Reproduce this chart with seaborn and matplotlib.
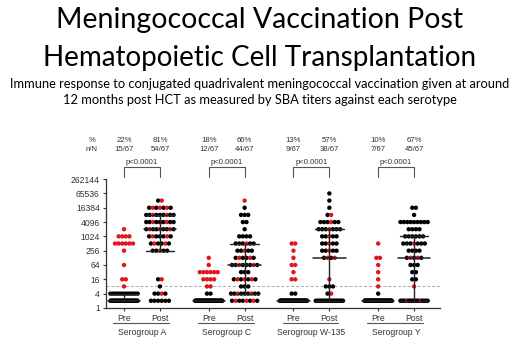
import numpy as np
import pandas as pd
import matplotlib
matplotlib.use("Agg")
import matplotlib.pyplot as plt
import matplotlib.transforms as mtransforms
import seaborn as sns

sns.set_style("ticks")
plt.rcParams['font.family'] = ['Liberation Sans', 'DejaVu Sans']

# titer levels 2^1 .. 2^16
titers = [2 ** k for k in range(1, 17)]

# dot counts per titer level (black / red)
a_pre_black = [39, 12, 0, 0, 0, 0, 0, 0, 0, 0, 0, 0, 0, 0, 0, 0]
a_pre_red = [0, 0, 1, 2, 0, 1, 0, 1, 6, 4, 1, 0, 0, 0, 0, 0]
a_post_black = [6, 3, 1, 1, 0, 0, 0, 4, 4, 5, 6, 7, 7, 4, 1, 0]
a_post_red = [0, 1, 0, 1, 0, 0, 0, 1, 2, 2, 3, 2, 2, 3, 1, 0]
c_pre_black = [51, 2, 0, 0, 0, 0, 0, 0, 0, 0, 0, 0, 0, 0, 0, 0]
c_pre_red = [0, 0, 2, 4, 6, 1, 1, 0, 0, 0, 0, 0, 0, 0, 0, 0]
c_post_black = [5, 7, 3, 4, 3, 6, 4, 4, 5, 4, 1, 2, 3, 1, 0, 0]
c_post_red = [3, 2, 0, 3, 0, 2, 2, 1, 1, 0, 0, 0, 0, 0, 1, 0]
w_pre_black = [56, 2, 0, 0, 0, 0, 0, 0, 0, 0, 0, 0, 0, 0, 0, 0]
w_pre_red = [0, 0, 0, 2, 1, 2, 1, 1, 2, 0, 0, 0, 0, 0, 0, 0]
w_post_black = [24, 1, 3, 0, 0, 0, 2, 4, 4, 4, 6, 5, 1, 1, 1, 1]
w_post_red = [0, 1, 0, 1, 0, 0, 2, 1, 1, 1, 1, 1, 1, 0, 0, 0]
y_pre_black = [59, 1, 0, 0, 0, 0, 0, 0, 0, 0, 0, 0, 0, 0, 0, 0]
y_pre_red = [0, 0, 1, 1, 1, 1, 2, 0, 1, 0, 0, 0, 0, 0, 0, 0]
y_post_black = [19, 0, 0, 2, 2, 3, 3, 4, 6, 6, 4, 9, 1, 2, 0, 0]
y_post_red = [2, 0, 1, 0, 0, 0, 2, 0, 1, 0, 0, 0, 0, 0, 0, 0]

groups = ["Serogroup A", "Serogroup C", "Serogroup W-135", "Serogroup Y"]
timepoints = ["Pre", "Post"]
pct_labels = ["22%", "81%", "18%", "66%", "13%", "57%", "10%", "67%"]
n_labels = ["15/67", "54/67", "12/67", "44/67", "9/67", "38/67", "7/67", "45/67"]
p_labels = ["p<0.0001", "p<0.0001", "p<0.0001", "p<0.0001"]
cutoff = 8

columns = [
    (a_pre_black, a_pre_red), (a_post_black, a_post_red),
    (c_pre_black, c_pre_red), (c_post_black, c_post_red),
    (w_pre_black, w_pre_red), (w_post_black, w_post_red),
    (y_pre_black, y_pre_red), (y_post_black, y_post_red),
]

group_gap = 2.36
xpos = []
for g in range(len(groups)):
    xpos += [g * group_gap, g * group_gap + 1]

# scatter rows: spread each titer row horizontally, reds mixed into the row
rows = []
col_values = []
for xc, (blk, red) in zip(xpos, columns):
    vals = []
    for t, nb, nr in zip(titers, blk, red):
        n = nb + nr
        if n == 0:
            continue
        vals += [t] * n
        step = 0.1 if n == 1 else min(0.1, 0.76 / (n - 1))
        red_idx = set(int((k + 0.5) * n / nr) for k in range(nr)) if nr else set()
        for i in range(n):
            rows.append({'x': xc + (i - (n - 1) / 2) * step, 'titer': t,
                         'colour': 'red' if i in red_idx else 'black'})
    col_values.append(np.array(vals))
df = pd.DataFrame(rows)

fig = plt.figure(figsize=(5.2, 3.38), dpi=100)
ax = fig.add_axes([0.204, 0.089, 0.642, 0.381])

ax.axhline(cutoff, color='#aaaaaa', lw=0.7, ls=(0, (3, 2)), zorder=0)

sns.scatterplot(data=df, x='x', y='titer', hue='colour',
                palette={'black': 'black', 'red': '#e3141c'},
                s=10, linewidth=0, legend=False, ax=ax, zorder=3)

# median + interquartile range
for xc, vals in zip(xpos, col_values):
    q1, med, q3 = np.percentile(vals, [25, 50, 75], method='nearest')
    ax.plot([xc - 0.45, xc + 0.45], [med, med], color='#222222', lw=1.1, zorder=4)
    if q3 > med:
        ax.plot([xc - 0.4, xc + 0.4], [q3, q3], color='#222222', lw=1.0, zorder=4)
    if q1 < med:
        ax.plot([xc - 0.4, xc + 0.4], [q1, q1], color='#222222', lw=1.0, zorder=4)
    if q3 > q1:
        ax.plot([xc, xc], [q1, q3], color='#222222', lw=1.0, zorder=4)

ax.set_yscale('log', base=2)
ax.set_ylim(1, 262144)
ax.set_yticks([4 ** k for k in range(10)])
ax.set_yticklabels([str(4 ** k) for k in range(10)])
ax.minorticks_off()
ax.set_xlim(-0.5, xpos[-1] + 0.72)
ax.set_xticks(xpos)
ax.set_xticklabels(timepoints * len(groups))
ax.set_xlabel('')
ax.set_ylabel('')
ax.tick_params(axis='both', labelsize=6.2, colors='#333333', length=2.5, width=0.8, pad=2)
for s in ['top', 'right']:
    ax.spines[s].set_visible(False)
for s in ['left', 'bottom']:
    ax.spines[s].set_color('#333333')
    ax.spines[s].set_linewidth(0.9)

trans = mtransforms.blended_transform_factory(ax.transData, ax.transAxes)
txt = dict(transform=trans, ha='center', va='center', fontsize=6.2, color='#333333', clip_on=False)
hdr = dict(txt, fontsize=5.6)

ax.text(-0.9, 1.302, '%', **hdr)
ax.text(-0.9, 1.228, 'n/N', **hdr)
for xc, pl, nl in zip(xpos, pct_labels, n_labels):
    ax.text(xc, 1.302, pl, **hdr)
    ax.text(xc, 1.228, nl, **hdr)

for g, name in enumerate(groups):
    x0, x1 = xpos[2 * g], xpos[2 * g + 1]
    ax.plot([x0, x0, x1, x1], [1.016, 1.093, 1.093, 1.016], transform=trans,
            color='#555555', lw=0.8, clip_on=False)
    ax.text((x0 + x1) / 2, 1.13, p_labels[g], **hdr)
    ax.plot([x0 - 0.3, x1 + 0.25], [-0.116, -0.116], transform=trans,
            color='#555555', lw=0.8, clip_on=False)
    ax.text((x0 + x1) / 2, -0.19, name, **txt)

fig.text(0.5, 0.941, 'Meningococcal Vaccination Post', ha='center', va='center',
         fontsize=20.5, family='Lato', color='black')
fig.text(0.5, 0.828, 'Hematopoietic Cell Transplantation', ha='center', va='center',
         fontsize=20, family='Lato', color='black')
fig.text(0.5, 0.752, 'Immune response to conjugated quadrivalent meningococcal vaccination given at around',
         ha='center', va='center', fontsize=9.3, family='Lato', color='black')
fig.text(0.5, 0.703, '12 months post HCT as measured by SBA titers against each serotype',
         ha='center', va='center', fontsize=9.3, family='Lato', color='black')

fig.savefig('out.png', dpi=100)
